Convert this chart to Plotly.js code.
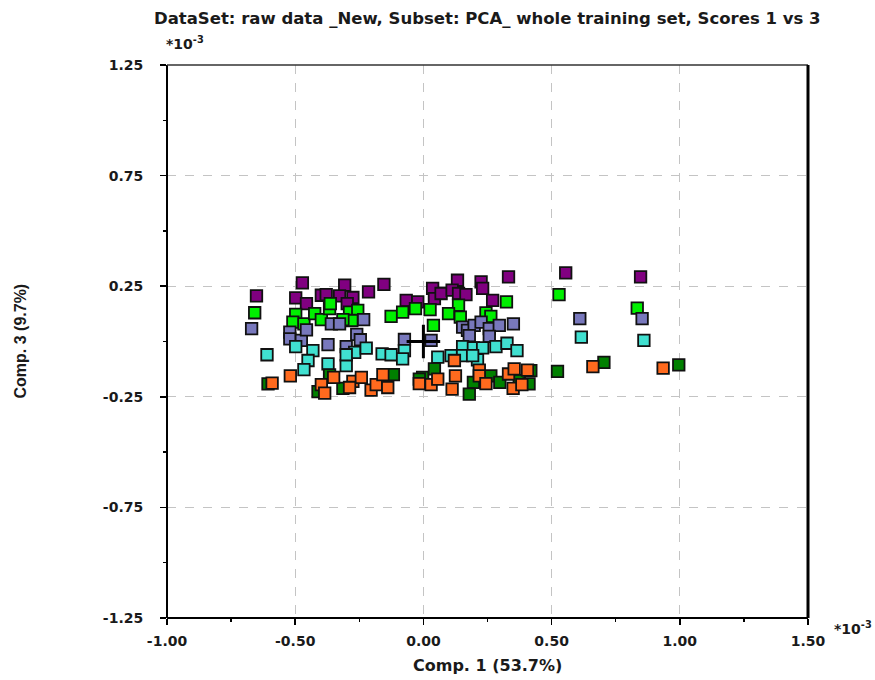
<!DOCTYPE html>
<html>
<head>
<meta charset="utf-8">
<script src="https://cdn.plot.ly/plotly-3.0.1.min.js"></script>
<style>html,body{margin:0;padding:0;background:#fff;}#chart{width:875px;height:680px;}</style>
</head>
<body>
<div id="chart"></div>
<script>
// Scores (units of 1e-3)
const purpleX = [-0.472,-0.651,-0.498,-0.456,-0.398,-0.379,-0.307,-0.327,-0.275,-0.297,-0.214,-0.154,-0.067,-0.022,0.036,0.043,0.133,0.069,0.112,0.137,0.166,0.225,0.231,0.270,0.332,0.555,0.847];
const purpleY = [0.265,0.206,0.197,0.171,0.209,0.212,0.255,0.206,0.199,0.171,0.224,0.258,0.186,0.179,0.240,0.194,0.277,0.217,0.232,0.217,0.212,0.270,0.240,0.186,0.292,0.310,0.292];

const limeX = [-0.658,-0.498,-0.509,-0.466,-0.424,-0.398,-0.366,-0.363,-0.288,-0.256,-0.279,-0.314,-0.126,-0.081,-0.031,0.026,0.039,0.137,0.098,0.144,0.244,0.263,0.324,0.529,0.834];
const limeY = [0.130,0.123,0.088,0.080,0.126,0.099,0.149,0.171,0.133,0.141,0.095,0.099,0.114,0.133,0.149,0.144,0.073,0.164,0.126,0.110,0.129,0.114,0.179,0.212,0.151];

const slateX = [-0.670,-0.521,-0.521,-0.476,-0.456,-0.359,-0.327,-0.233,-0.372,-0.301,-0.260,-0.246,-0.074,0.030,0.153,0.172,0.198,0.225,0.257,0.296,0.351,0.179,0.257,0.610,0.853];
const slateY = [0.058,0.042,0.012,0.005,0.053,0.080,0.080,0.099,-0.014,-0.023,0.032,0.008,0.009,0.005,0.065,0.050,0.073,0.088,0.058,0.073,0.080,0.027,0.023,0.103,0.103];

const turqX = [-0.610,-0.498,-0.431,-0.450,-0.466,-0.372,-0.301,-0.268,-0.223,-0.301,-0.161,-0.126,-0.074,-0.081,0.056,0.108,0.153,0.195,0.231,0.283,0.326,0.365,0.211,0.153,0.192,0.616,0.860];
const turqY = [-0.060,-0.023,-0.041,-0.086,-0.127,-0.101,-0.109,-0.049,-0.030,-0.060,-0.056,-0.060,-0.041,-0.079,-0.071,-0.064,-0.023,-0.029,-0.029,-0.023,-0.008,-0.041,-0.083,-0.064,-0.064,0.020,0.005];

const dgreenX = [-0.606,-0.411,-0.366,-0.314,-0.117,-0.003,0.043,0.195,0.179,0.263,0.298,0.374,0.419,0.412,0.523,0.704,0.996,-0.016];
const dgreenY = [-0.192,-0.227,-0.151,-0.212,-0.150,-0.162,-0.124,-0.185,-0.238,-0.155,-0.185,-0.177,-0.132,-0.192,-0.135,-0.094,-0.106,-0.170];

const orangeX = [-0.590,-0.519,-0.398,-0.385,-0.350,-0.275,-0.242,-0.288,-0.204,-0.184,-0.158,-0.139,-0.016,0.030,0.056,0.121,0.125,0.112,0.218,0.218,0.244,0.332,0.354,0.406,0.350,0.384,0.661,0.935];
const orangeY = [-0.188,-0.155,-0.195,-0.233,-0.162,-0.180,-0.162,-0.208,-0.220,-0.195,-0.150,-0.208,-0.190,-0.195,-0.170,-0.086,-0.155,-0.215,-0.129,-0.155,-0.190,-0.147,-0.124,-0.129,-0.212,-0.195,-0.114,-0.120];

const centerX = [0.0];
const centerY = [0.0];

const xTicks = [-1.00,-0.50,0.00,0.50,1.00,1.50];
const yTicks = [-1.25,-0.75,-0.25,0.25,0.75,1.25];

const titleText = 'DataSet: raw data _New, Subset: PCA_ whole training set, Scores 1 vs 3';
const xTitle = 'Comp. 1 (53.7%)';
const yTitle = 'Comp. 3 (9.7%)';

function sq(x, y, color) {
  return {x: x, y: y, type: 'scatter', mode: 'markers', hoverinfo: 'skip',
    marker: {symbol: 'square', size: 11.5, color: color, line: {color: '#111', width: 1.8}}};
}

const data = [
  sq(purpleX, purpleY, '#800080'),
  sq(limeX, limeY, '#00f000'),
  sq(slateX, slateY, '#7878bc'),
  sq(turqX, turqY, '#40e0d0'),
  sq(dgreenX, dgreenY, '#008000'),
  sq(orangeX, orangeY, '#ff6a1e'),
  {x: centerX, y: centerY, type: 'scatter', mode: 'markers', hoverinfo: 'skip',
   marker: {symbol: 'cross-thin', size: 24, color: '#000', line: {color: '#000', width: 3}}}
];

const tickFont = {family: 'DejaVu Sans, Arial', size: 14, color: '#1a1a1a', weight: 'bold'};

const layout = {
  width: 875, height: 680,
  margin: {l: 167, r: 67, t: 65, b: 62},
  paper_bgcolor: '#fff', plot_bgcolor: '#fff',
  showlegend: false,
  xaxis: {
    range: [-1, 1.5], tickvals: xTicks, ticktext: xTicks.map(v => v.toFixed(2)),
    ticks: 'outside', ticklen: 6, tickwidth: 1.5, tickcolor: '#000',
    showgrid: true, gridcolor: '#c4c4c4', griddash: 'dash', gridwidth: 1,
    zeroline: false, showline: false, tickfont: tickFont, ticklabelstandoff: 4,
    minor: {tickvals: [-0.75,-0.25,0.25,0.75,1.25], ticks: 'outside', ticklen: 3, tickcolor: '#000', showgrid: false}
  },
  yaxis: {
    range: [-1.25, 1.25], tickvals: yTicks, ticktext: yTicks.map(v => v.toFixed(2)),
    ticks: 'outside', ticklen: 6, tickwidth: 1.5, tickcolor: '#000',
    showgrid: true, gridcolor: '#c4c4c4', griddash: 'dash', gridwidth: 1,
    zeroline: false, showline: false, tickfont: tickFont, ticklabelstandoff: 14,
    minor: {tickvals: [-1.0,-0.5,0,0.5,1.0], ticks: 'outside', ticklen: 3, tickcolor: '#000', showgrid: false}
  },
  shapes: [
    {type: 'line', xref: 'paper', yref: 'paper', x0: 0, x1: 0, y0: 0, y1: 1, line: {color: '#000', width: 2}, layer: 'above'},
    {type: 'line', xref: 'paper', yref: 'paper', x0: 0, x1: 1, y0: 1, y1: 1, line: {color: '#333', width: 1.5}, layer: 'above'},
    {type: 'line', xref: 'paper', yref: 'paper', x0: 1, x1: 1, y0: 0, y1: 1, line: {color: '#000', width: 3}, layer: 'above'},
    {type: 'line', xref: 'paper', yref: 'paper', x0: 0, x1: 1, y0: 0, y1: 0, line: {color: '#000', width: 2}, layer: 'above'}
  ],
  annotations: [
    {text: titleText, xref: 'paper', yref: 'paper', x: 0.5, y: 1 + 47/553, xanchor: 'center', yanchor: 'middle', showarrow: false,
     font: {family: 'DejaVu Sans, Arial', size: 16.5, color: '#1a1a1a', weight: 'bold'}},
    {text: '*10<sup>-3</sup>', xref: 'paper', yref: 'paper', x: 18/641, y: 1 + 22/553, xanchor: 'center', yanchor: 'middle', showarrow: false,
     font: {family: 'DejaVu Sans, Arial', size: 14, color: '#1a1a1a', weight: 'bold'}},
    {text: '*10<sup>-3</sup>', xref: 'paper', yref: 'paper', x: (853-167)/641, y: -10/553, xanchor: 'center', yanchor: 'middle', showarrow: false,
     font: {family: 'DejaVu Sans, Arial', size: 14, color: '#1a1a1a', weight: 'bold'}},
    {text: xTitle, xref: 'paper', yref: 'paper', x: 0.5, y: -47/553, xanchor: 'center', yanchor: 'middle', showarrow: false,
     font: {family: 'DejaVu Sans, Arial', size: 16, color: '#1a1a1a', weight: 'bold'}},
    {text: yTitle, xref: 'paper', yref: 'paper', x: (20-167)/641, y: 0.5, xanchor: 'center', yanchor: 'middle', showarrow: false, textangle: -90,
     font: {family: 'Liberation Sans, Arial', size: 16, color: '#1a1a1a', weight: 'bold'}}
  ]
};

Plotly.newPlot('chart', data, layout, {staticPlot: true, displayModeBar: false});
</script>
</body>
</html>
